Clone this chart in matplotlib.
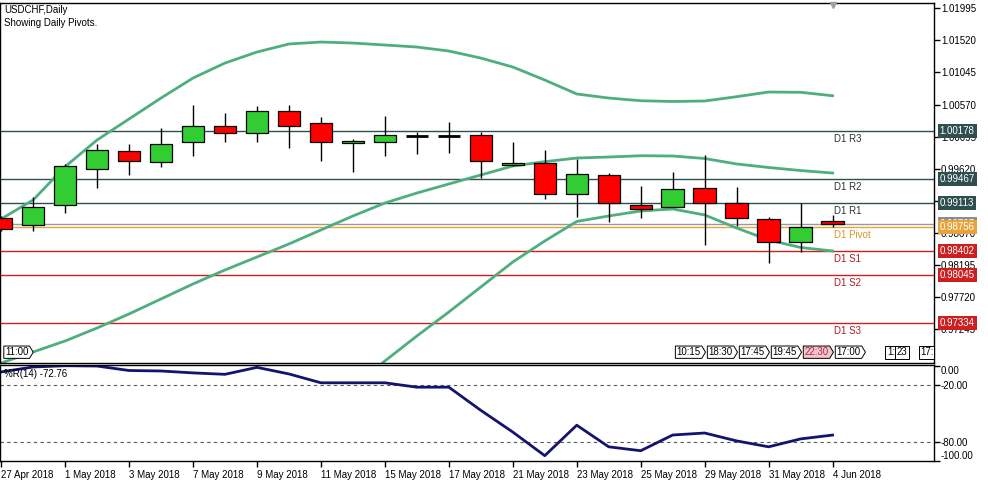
import numpy as np
import matplotlib
matplotlib.use("Agg")
import matplotlib.pyplot as plt
from matplotlib.path import Path

plt.rcParams["font.family"] = ["Liberation Sans", "DejaVu Sans"]

# ---- data --------------------------------------------------------------
dates = ["27 Apr 2018", "30 Apr 2018", "1 May 2018", "2 May 2018", "3 May 2018",
         "4 May 2018", "7 May 2018", "8 May 2018", "9 May 2018", "10 May 2018",
         "11 May 2018", "14 May 2018", "15 May 2018", "16 May 2018", "17 May 2018",
         "18 May 2018", "21 May 2018", "22 May 2018", "23 May 2018", "24 May 2018",
         "25 May 2018", "28 May 2018", "29 May 2018", "30 May 2018", "31 May 2018",
         "1 Jun 2018", "4 Jun 2018"]

opens = [0.98886, 0.98782, 0.99078, 0.99620, 0.99878, 0.99715, 1.00011, 1.00252, 1.00144,
         1.00470, 1.00292, 0.99996, 1.00020, 1.00108, 1.00104, 1.00114, 0.99679, 0.99700,
         0.99241, 0.99522, 0.99078, 0.99058, 0.99330, 0.99108, 0.98871, 0.98540, 0.98842]
highs = [0.98920, 0.99197, 0.99690, 0.99986, 0.99986, 1.00222, 1.00563, 1.00444, 1.00548,
         1.00563, 1.00385, 1.00060, 1.00400, 1.00168, 1.00307, 1.00163, 1.00011, 0.99892,
         0.99759, 0.99556, 0.99364, 0.99576, 0.99823, 0.99349, 0.98901, 0.99108, 0.98935]
lows = [0.98698, 0.98702, 0.98969, 0.99339, 0.99531, 0.99650, 0.99812, 1.00020, 1.00020,
        0.99931, 0.99738, 0.99567, 0.99812, 0.99833, 0.99857, 0.99487, 0.99660, 0.99167,
        0.98910, 0.98836, 0.98895, 0.99050, 0.98491, 0.98772, 0.98229, 0.98392, 0.98762]
closes = [0.98723, 0.99049, 0.99656, 0.99892, 0.99730, 0.99986, 1.00252, 1.00144, 1.00470,
          1.00248, 1.00011, 1.00030, 1.00114, 1.00108, 1.00104, 0.99730, 0.99709, 0.99241,
          0.99537, 0.99108, 0.99019, 0.99315, 0.99108, 0.98886, 0.98540, 0.98753, 0.98797]

# Bollinger bands
bb_upper = [0.98876, 0.99157, 0.99650, 1.00045, 1.00356, 1.00666, 1.00962, 1.01184, 1.01347,
            1.01466, 1.01495, 1.01480, 1.01451, 1.01421, 1.01362, 1.01258, 1.01125, 1.00933,
            1.00726, 1.00666, 1.00626, 1.00615, 1.00622, 1.00686, 1.00755, 1.00751, 1.00700]
bb_middle = [0.96744, 0.96907, 0.97070, 0.97262, 0.97470, 0.97692, 0.97914, 0.98121, 0.98313,
             0.98506, 0.98713, 0.98920, 0.99112, 0.99260, 0.99394, 0.99527, 0.99660, 0.99724,
             0.99778, 0.99793, 0.99812, 0.99808, 0.99771, 0.99690, 0.99638, 0.99593, 0.99556]
bb_lower_start = 11
bb_lower = [0.96360, 0.96774, 0.97144, 0.97499, 0.97869, 0.98239, 0.98550, 0.98839, 0.98920,
            0.98994, 0.99024, 0.98935, 0.98742, 0.98565, 0.98454, 0.98402]

pivot_names = ["D1 R3", "D1 R2", "D1 R1", "D1 Pivot", "D1 S1", "D1 S2", "D1 S3"]
pivot_values = [1.00178, 0.99467, 0.99113, 0.98756, 0.98402, 0.98045, 0.97334]

price_ticks = [0.97245, 0.97720, 0.98195, 0.98670, 0.99145, 0.99620, 1.00095,
               1.00570, 1.01045, 1.01520, 1.01995]

williams_r = [-6.5, -1.3, 0.0, -0.3, -5.0, -5.5, -7.5, -9.0, -1.7, -8.6, -17.9, -17.9,
              -17.9, -22.5, -22.5, -46.8, -69.6, -94.4, -62.4, -85.1, -89.2, -72.7,
              -70.6, -78.9, -85.1, -76.8, -72.76]
wr_levels = [-20, -80]
wr_ticks = [0, -20, -80, -100]

time_tags = ["11:00", "10:15", "18:30", "17:45", "19:45", "22:30", "17:00"]
time_tag_bars = [0, 21, 22, 23, 24, 25, 26]
extra_tags = ["1:", "23", "17:"]
extra_tag_pos = [27.7, 28.0, 28.75]

# ---- styling -------------------------------------------------------------
UP = "#32cd32"
DOWN = "#ff0000"
BAND = "#4fae7f"
R_COL = "#2f4f4f"
PIV_COL = "#e8a33c"
S_COL = "#cc2020"
FS = 7


def tag_box(x0, y0, width, height, mutation_size):
    pad = 0.12 * mutation_size
    x0, y0 = x0 - pad, y0 - pad
    width, height = width + 2 * pad, height + 2 * pad
    tip = height * 0.3
    verts = [(x0, y0), (x0 + width, y0), (x0 + width + tip, y0 + height / 2),
             (x0 + width, y0 + height), (x0, y0 + height), (x0, y0)]
    codes = [Path.MOVETO] + [Path.LINETO] * 4 + [Path.CLOSEPOLY]
    return Path(verts, codes)


fig = plt.figure(figsize=(9.88, 4.84), dpi=100)
ax = fig.add_axes([0.0005, 0.25, 0.9448, 0.7444])
ax_low = fig.add_axes([0.0005, 0.0465, 0.9448, 0.1994])

n = len(dates)
x = np.arange(n)
xlim = (-0.02, 29.17)

# ---- main panel ------------------------------------------------------------
# pivot lines
for name, val in zip(pivot_names, pivot_values):
    if "R" in name:
        col, tcol = R_COL, "#333333"
    elif "Pivot" in name:
        col, tcol = PIV_COL, "#d4952a"
    else:
        col, tcol = S_COL, "#b01c1c"
    ax.axhline(val, color=col, lw=1.0, zorder=1)
    ax.annotate(name, xy=(26.03, val), xytext=(0, -2), textcoords="offset points",
                ha="left", va="top", fontsize=FS, color=tcol, zorder=2)

# current price line
ax.axhline(closes[-1], color="#999999", lw=1.0, zorder=1)

# bands
ax.plot(x, bb_upper, color=BAND, lw=2, zorder=2)
ax.plot(x, bb_middle, color=BAND, lw=2, zorder=2)
ax.plot(x[bb_lower_start:], bb_lower, color=BAND, lw=2, zorder=2)

# candles
for i in range(n):
    o, h, l, c = opens[i], highs[i], lows[i], closes[i]
    ax.vlines(i, l, h, color="black", lw=1, zorder=3)
    if o == c:
        ax.hlines(o, i - 0.35, i + 0.35, color="black", lw=2, zorder=4)
    else:
        ax.bar(i, abs(c - o), bottom=min(o, c), width=0.7,
               color=UP if c > o else DOWN, edgecolor="black", lw=0.9, zorder=4)

ax.set_xlim(*xlim)
ax.set_ylim(0.96744, 1.02077)
ax.set_xticks([])
ax.yaxis.tick_right()
ax.set_yticks(price_ticks)
ax.set_yticklabels([f"{v:.5f}" for v in price_ticks])
ax.tick_params(axis="y", direction="out", length=4, width=1, pad=1, labelsize=FS)
for s in ax.spines.values():
    s.set_linewidth(1)

# right-hand value boxes
box_vals = [closes[-1]] + pivot_values
box_cols = ["#8c8c8c", R_COL, R_COL, R_COL, PIV_COL, S_COL, S_COL, S_COL]
order = [0, 1, 2, 3, 5, 6, 7, 4]  # pivot (orange) drawn on top of current price
for k in order:
    ax.annotate(f"{box_vals[k]:.5f}", xy=(1.0, box_vals[k]),
                xycoords=("axes fraction", "data"), xytext=(4.2, 0),
                textcoords="offset points", ha="left", va="center",
                fontsize=FS, color="white", zorder=10 + k, annotation_clip=False,
                bbox=dict(boxstyle="square,pad=0.2", fc=box_cols[k], ec="none"))

# titles
ax.annotate("USDCHF,Daily", xy=(0, 1), xycoords="axes fraction", xytext=(2.5, -1.5),
            textcoords="offset points", ha="left", va="top", fontsize=FS)
ax.annotate("Showing Daily Pivots.", xy=(0, 1), xycoords="axes fraction",
            xytext=(2.5, -11), textcoords="offset points", ha="left", va="top",
            fontsize=FS)

# small scroll marker at the top
ax.plot([26], [0.993], marker="v", ms=5, color="#a0a0a0",
        transform=ax.get_xaxis_transform(), clip_on=False, zorder=5)

# time tags at the bottom of the price panel
for lab, b in zip(time_tags, time_tag_bars):
    pink = lab == "22:30"
    ax.text(b + 0.12, 0.03, lab, transform=ax.get_xaxis_transform(), fontsize=FS,
            ha="left", va="center", color="#a0304a" if pink else "black", zorder=6,
            bbox=dict(boxstyle=tag_box, fc="#f4c4c8" if pink else "white",
                      ec="black", lw=0.7))
for lab, p in zip(extra_tags, extra_tag_pos):
    ax.text(p, 0.03, lab, transform=ax.get_xaxis_transform(), fontsize=FS,
            ha="left", va="center", zorder=6, clip_on=True,
            bbox=dict(boxstyle="square,pad=0.15", fc="white", ec="black", lw=0.7))

# ---- Williams %R panel ------------------------------------------------------
for lv in wr_levels:
    ax_low.axhline(lv, color="#555555", lw=0.8, ls=(0, (3, 3)))
ax_low.plot(x, williams_r, color="#14146e", lw=2)
ax_low.set_xlim(*xlim)
ax_low.set_ylim(-100.5, 0.8)
ax_low.yaxis.tick_right()
ax_low.set_yticks(wr_ticks)
ax_low.set_yticklabels([f"{v:.2f}" for v in wr_ticks])
ax_low.tick_params(axis="y", direction="out", length=4, width=1, pad=1, labelsize=FS)
ylabs = ax_low.get_yticklabels()
ylabs[0].set_va("top")
ylabs[-1].set_va("bottom")
ax_low.set_xticks(x[::2])
ax_low.set_xticklabels(dates[::2], ha="left")
ax_low.tick_params(axis="x", direction="out", length=4, width=1, pad=2, labelsize=FS)
ax_low.annotate(f"%R(14) {williams_r[-1]:.2f}", xy=(0, 1), xycoords="axes fraction",
                xytext=(2.5, -3), textcoords="offset points", ha="left", va="top",
                fontsize=FS)
for s in ax_low.spines.values():
    s.set_linewidth(1)

fig.savefig("out.png", dpi=100, facecolor="white")
